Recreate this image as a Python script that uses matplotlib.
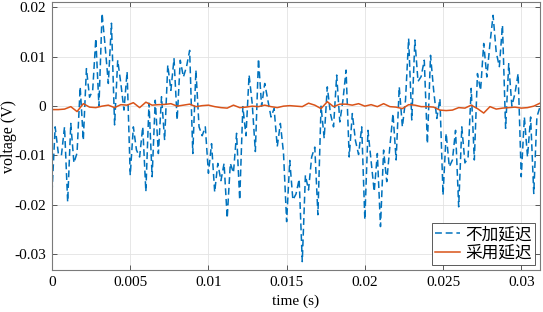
import numpy as np
import matplotlib
matplotlib.use('Agg')
import matplotlib.pyplot as plt

####### data (values in mV, converted below) #######
dt_blue = 0.0002  # sample spacing of the "no delay" trace (s)
blue_mv = [
    -17.5, -4.2, -9.5, -10.0, -4.2, -19.4, -3.5, -11.5, -9.5, 3.9,
    -6.9, 7.6, 1.8, 3.2, 13.7, 0.0, 18.8, 12.0, 4.6, 16.8,
    -3.8, 9.3, 4.6, -0.8, 7.0, -14.0, -4.2, -8.9, -10.3, -4.2,
    -17.3, 0.6, -14.3, 1.2, -9.6, 1.9, -6.9, 8.3, 3.2, 9.6,
    -2.8, 9.3, 5.9, 8.0, 11.3, -9.6, 7.3, -4.2, -6.0, -4.2,
    -13.6, -7.6, -17.4, -11.6, -15.1, -11.6, -22.7, -11.6, -13.5, -5.5,
    -19.0, -0.1, -6.0, 6.3, 0.5, -9.2, 9.6, 0.0, 4.6, 1.2,
    -2.2, -0.5, -8.2, -3.5, -9.5, -23.4, -11.0, -19.0, -17.8, -14.8,
    -31.5, -14.0, -17.0, -10.3, -8.3, -22.0, 0.0, -6.5, 3.9, -1.5,
    -4.2, 6.3, -3.2, 1.2, 7.3, -10.3, -1.5, -7.0, -9.8, -4.2,
    -23.0, -4.9, -11.0, -17.3, -9.6, -24.4, -8.9, -15.3, -8.2, -1.5,
    -10.9, 3.9, -4.2, 1.2, 13.7, -2.8, 13.4, 5.0, 6.0, 9.3,
    -7.6, 10.3, 3.2, -2.5, 1.5, -18.0, -5.5, -12.3, -10.9, -4.9,
    -20.4, -4.2, -11.5, -10.5, 3.6, -10.9, 6.6, 3.2, 12.7, 5.9,
    12.7, 18.4, 10.9, 8.0, 16.4, -4.5, 8.6, 0.0, 2.6, 6.6,
    -14.3, -2.2, -10.3, -2.2, -17.7, -2.2, -0.1,
]

dt_orange = 0.0004  # sample spacing of the "with delay" trace (s)
orange_mv = [
    -0.7, -0.7, -0.6, -0.1, -1.1, 0.5, -0.2, -0.3, 0.0, 0.2,
    -0.3, 0.3, 0.2, 0.7, -0.3, 0.8, 0.2, 0.3, 0.35, 0.5,
    0.0, 0.2, 0.4, -0.1, 0.1, 0.2, -0.1, -0.3, -0.4, 0.2,
    -0.3, -0.2, 0.0, -0.1, 0.2, -0.1, -0.3, 0.0, 0.1, 0.0,
    -0.1, 0.6, 0.2, -0.5, 0.9, -0.1, 0.4, 0.4, 0.2, 0.5,
    0.0, 0.3, -0.1, 0.5, -0.1, -0.2, -0.5, 0.3, 0.2, -0.1,
    -0.1, -0.2, -0.8, -0.9, -0.8, -0.3, -0.4, 0.2, -0.5, -1.4,
    -0.1, -0.6, -0.4, -0.3, -0.2, -0.4, -0.3, 0.0, 0.6,
]

legend_labels = ['不加延迟', '采用延迟']
xticks = [0, 0.005, 0.01, 0.015, 0.02, 0.025, 0.03]
xtick_labels = ['0', '0.005', '0.01', '0.015', '0.02', '0.025', '0.03']
yticks = [-0.03, -0.02, -0.01, 0, 0.01, 0.02]
ytick_labels = ['-0.03', '-0.02', '-0.01', '0', '0.01', '0.02']


def main():
    plt.rcParams['font.family'] = ['Liberation Serif', 'DejaVu Serif']
    plt.rcParams['axes.unicode_minus'] = False

    t_blue = np.arange(len(blue_mv)) * dt_blue
    t_orange = np.arange(len(orange_mv)) * dt_orange
    v_blue = np.array(blue_mv) * 1e-3
    v_orange = np.array(orange_mv) * 1e-3

    fig = plt.figure(figsize=(5.43, 3.12), dpi=100)
    ax = fig.add_axes([0.0958, 0.1346, 0.8987, 0.859])

    ax.plot(t_blue, v_blue, color='#0072BD', linewidth=1.1,
            linestyle=(0, (4.5, 2.5)), label=legend_labels[0])
    ax.plot(t_orange, v_orange, color='#D95319', linewidth=1.1,
            label=legend_labels[1])

    ax.set_xlim(0, 0.0312)
    ax.set_ylim(-0.0332, 0.0211)
    ax.set_xticks(xticks)
    ax.set_xticklabels(xtick_labels)
    ax.set_yticks(yticks)
    ax.set_yticklabels(ytick_labels)
    ax.tick_params(direction='in', length=3.5, width=0.6, color='#404040',
                   labelsize=11, top=True, right=True, pad=4)
    ax.grid(True, color='#e3e3e3', linewidth=0.6)
    ax.set_axisbelow(True)
    for sp in ax.spines.values():
        sp.set_color('#7a7a7a')
        sp.set_linewidth(0.8)

    ax.set_xlabel('time (s)', fontsize=11, labelpad=4)
    ax.set_ylabel('voltage (V)', fontsize=11.5)
    ax.yaxis.set_label_coords(-0.072, 0.5)

    leg = ax.legend(loc='lower right', prop={'family': ['Noto Sans CJK SC', 'DejaVu Sans'], 'size': 12},
                    fancybox=False, framealpha=1, edgecolor='#404040',
                    handlelength=1.5, handletextpad=0.3, borderpad=0.2,
                    labelspacing=0.1, borderaxespad=0.3)
    leg.get_frame().set_linewidth(0.6)

    fig.savefig('out.png', dpi=100)


if __name__ == '__main__':
    main()
